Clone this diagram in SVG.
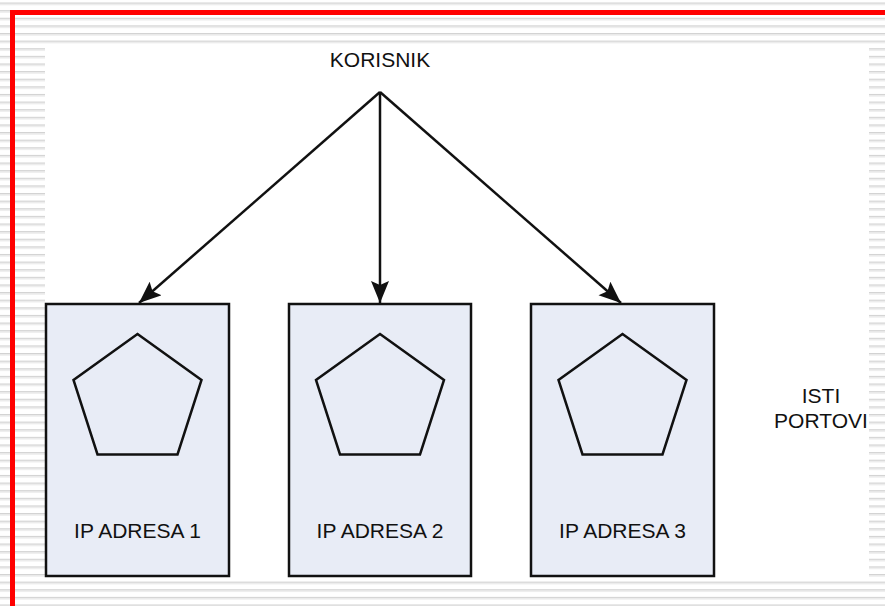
<svg xmlns="http://www.w3.org/2000/svg" width="885" height="606" viewBox="0 0 885 606">
  <style>
    .box { fill: #e8ecf6; stroke: #111; stroke-width: 2.5; }
    .pent { fill: none; stroke: #111; stroke-width: 2.5; stroke-linejoin: miter; }
    .lbl { font-family: "Liberation Sans", Arial, sans-serif; font-size: 21px; fill: #111; text-anchor: middle; }
    .conn { stroke: #111; stroke-width: 2.5; fill: none; }
  </style>
  <defs>
    <pattern id="stripes" patternUnits="userSpaceOnUse" x="0" y="2.5" width="20" height="7.62">
      <rect x="0" y="0" width="20" height="1.3" fill="#d2d2d2"/>
      <rect x="0" y="1.3" width="20" height="1.2" fill="#e6e6e6"/>
    </pattern>
    <marker id="arrow" markerUnits="userSpaceOnUse" markerWidth="24" markerHeight="20" refX="22" refY="9" orient="auto">
      <path d="M0,0 L22,9 L0,18 L4,9 Z" fill="#111"/>
    </marker>
  </defs>

  <!-- background -->
  <rect x="0" y="0" width="885" height="606" fill="#fff"/>
  <rect x="0" y="0" width="885" height="606" fill="url(#stripes)"/>
  <rect x="45" y="46" width="824" height="532" fill="#fff"/>
  <!-- red frame -->
  <rect x="10" y="10" width="875" height="5" fill="#ff0000"/>
  <rect x="10" y="10" width="5" height="596" fill="#ff0000"/>

  <g id="korisnik">
    <text class="lbl" x="380" y="67">KORISNIK</text>
  </g>

  <g id="node1">
    <rect class="box" x="46" y="304" width="183" height="272"/>
    <polygon class="pent" points="137.5,334 201.5,380 177.5,454.5 97.5,454.5 73.5,380"/>
    <text class="lbl" x="137.5" y="538">IP ADRESA 1</text>
  </g>
  <g id="node2">
    <rect class="box" x="289" y="304" width="182" height="272"/>
    <polygon class="pent" points="380,334 444,380 420,454.5 340,454.5 316,380"/>
    <text class="lbl" x="380" y="538">IP ADRESA 2</text>
  </g>
  <g id="node3">
    <rect class="box" x="531" y="304" width="183" height="272"/>
    <polygon class="pent" points="622.5,334 686.5,380 662.5,454.5 582.5,454.5 558.5,380"/>
    <text class="lbl" x="622.5" y="538">IP ADRESA 3</text>
  </g>

  <g id="isti-portovi">
    <text class="lbl" x="821" y="403">ISTI</text>
    <text class="lbl" x="821" y="428">PORTOVI</text>
  </g>

  <g id="connectors">
    <line class="conn" x1="380" y1="92" x2="139" y2="303" marker-end="url(#arrow)"/>
    <line class="conn" x1="380" y1="92" x2="380" y2="303" marker-end="url(#arrow)"/>
    <line class="conn" x1="380" y1="92" x2="621" y2="303" marker-end="url(#arrow)"/>
  </g>
</svg>
